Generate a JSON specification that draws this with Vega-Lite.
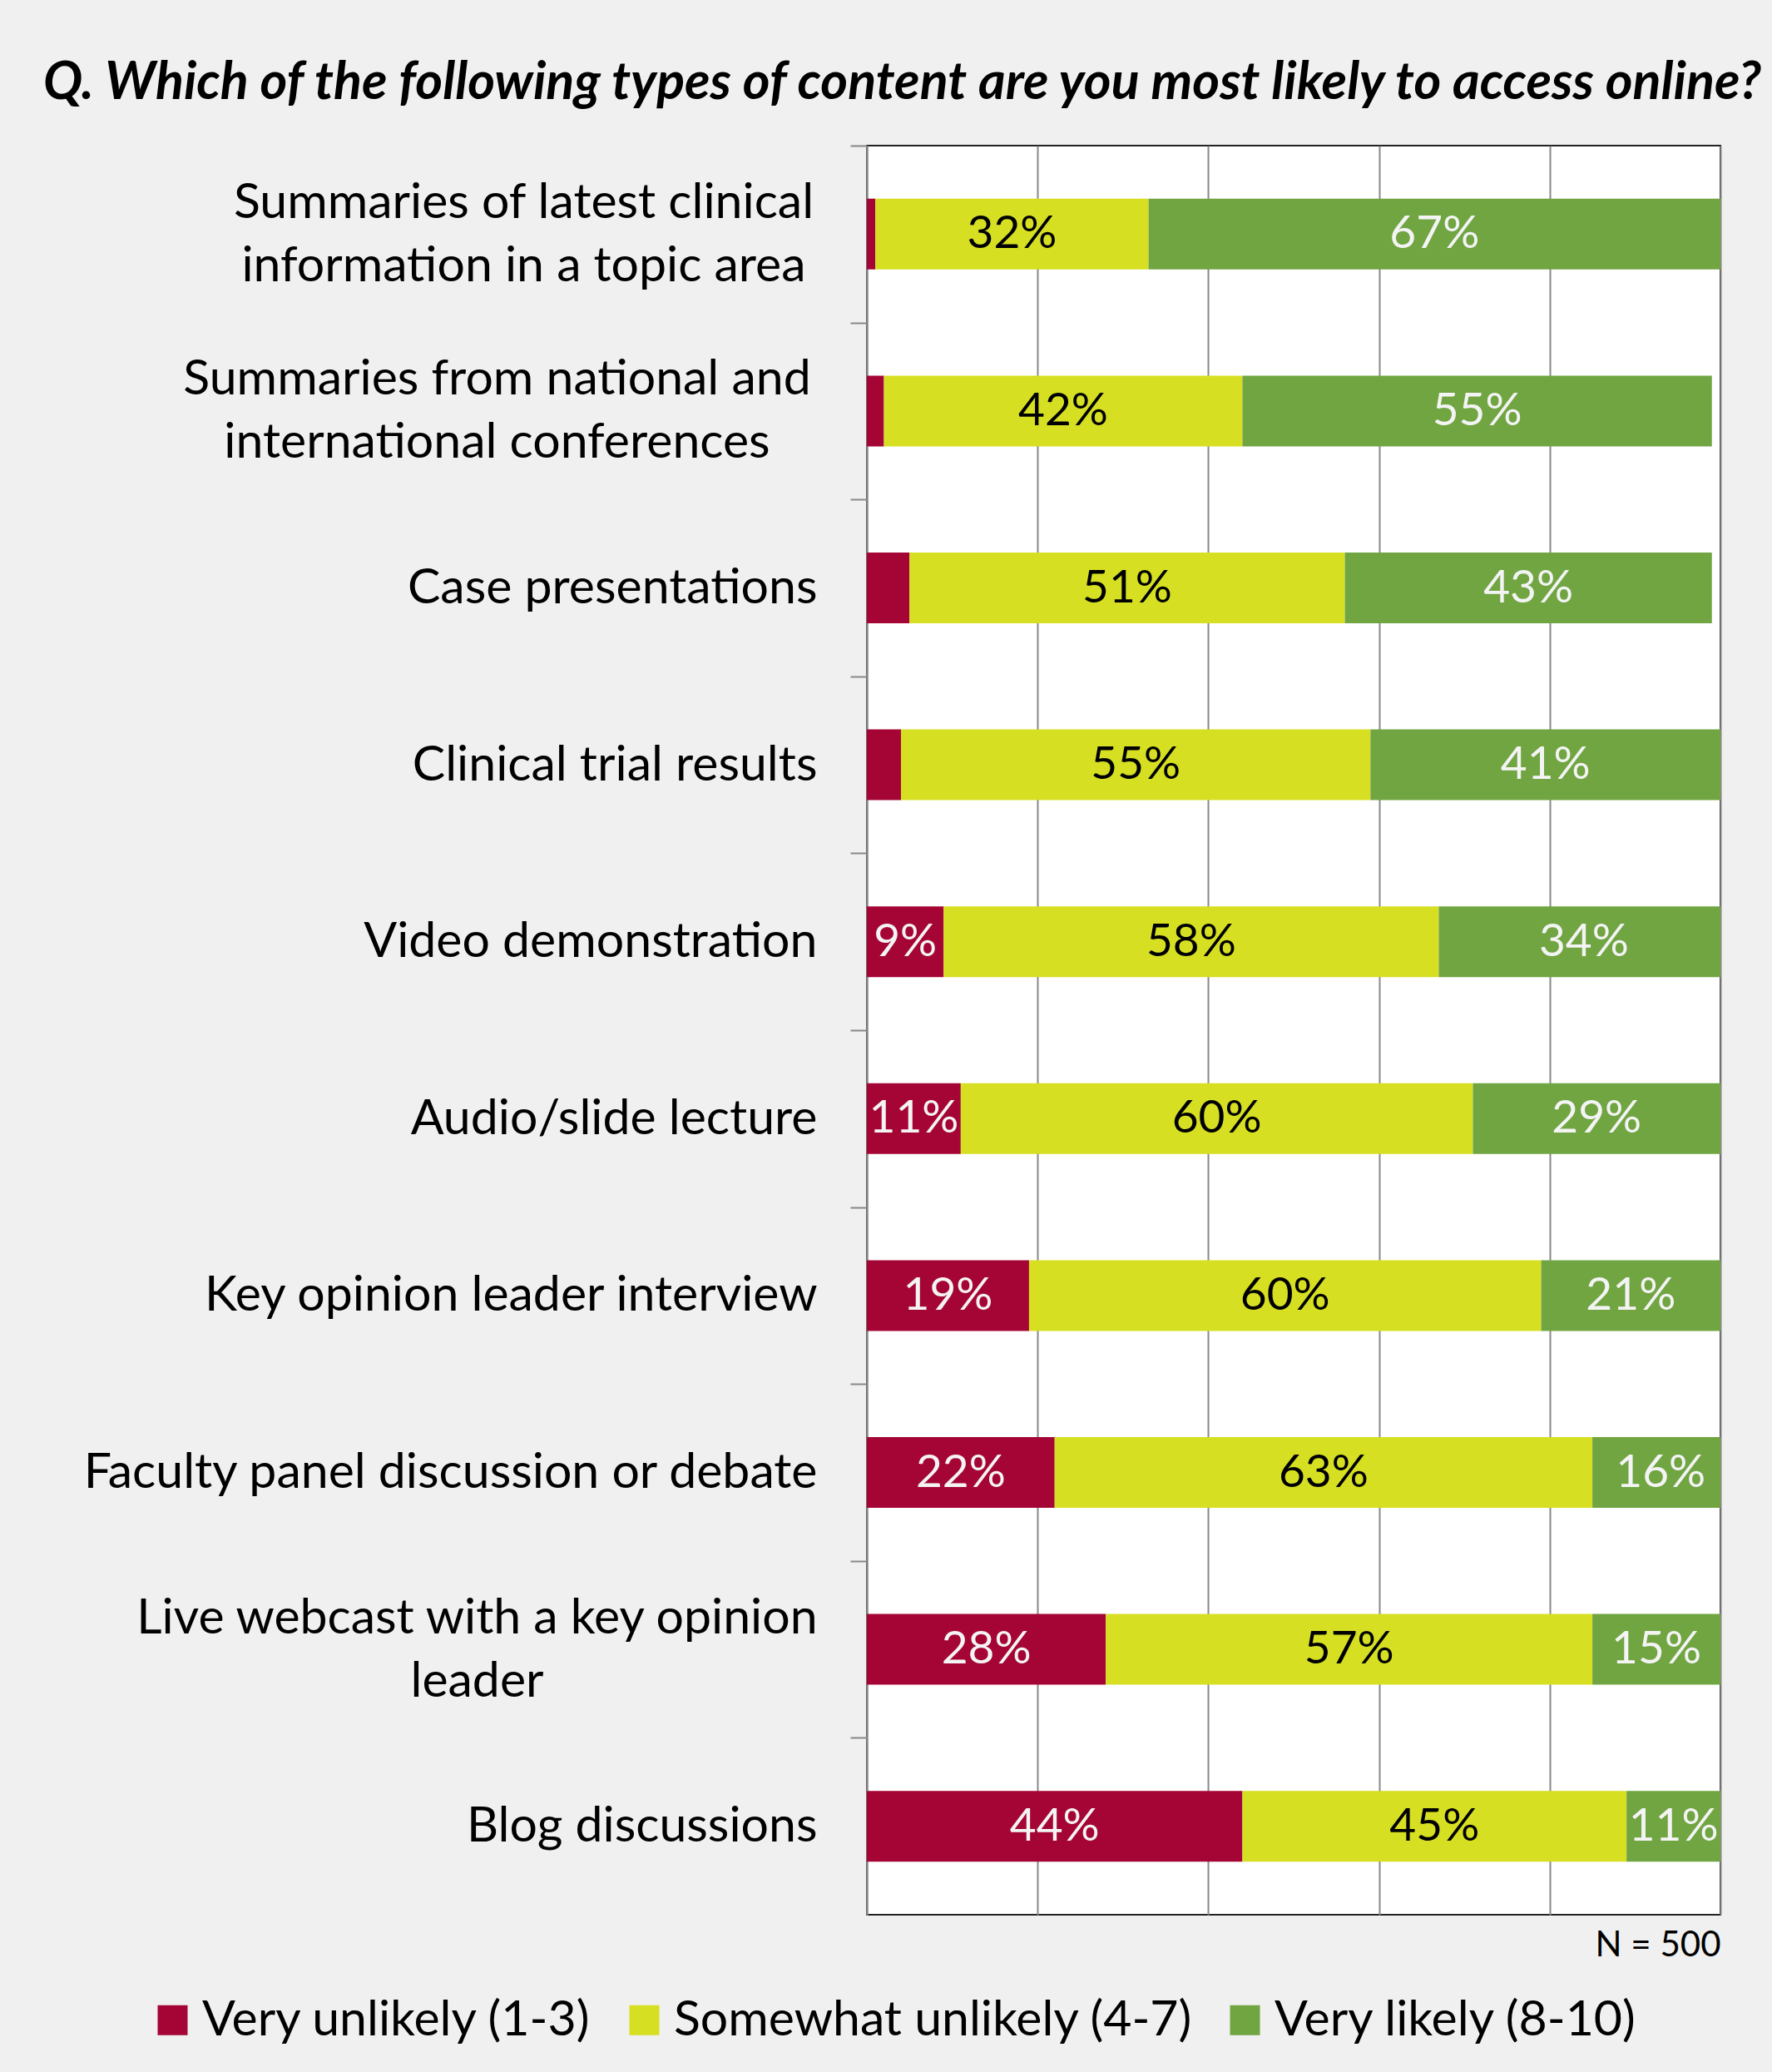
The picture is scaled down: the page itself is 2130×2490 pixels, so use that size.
{
  "$schema": "https://vega.github.io/schema/vega-lite/v6.json",
  "width": 1026,
  "height": 2126,
  "autosize": {"type": "none"},
  "padding": {"left": 1042, "top": 175, "right": 62, "bottom": 189},
  "background": "#f0f0f0",
  "title": {
    "text": "Q. Which of the following types of content are you most likely to access online?",
    "anchor": "start",
    "frame": "group",
    "dx": -990,
    "offset": 42,
    "font": "Lato",
    "fontSize": 62.8,
    "fontWeight": "bold",
    "fontStyle": "italic",
    "color": "#000000"
  },
  "config": {
    "font": "Lato",
    "view": {"fill": "#ffffff", "stroke": "#222222", "strokeWidth": 2}
  },
  "data": {
    "values": [
      {"item": "Summaries of latest clinical|information in a topic area", "rating": "Very unlikely (1-3)", "code": 1, "value": 0.01},
      {"item": "Summaries of latest clinical|information in a topic area", "rating": "Somewhat unlikely (4-7)", "code": 2, "value": 0.32},
      {"item": "Summaries of latest clinical|information in a topic area", "rating": "Very likely (8-10)", "code": 3, "value": 0.67},
      {"item": "Summaries from national and|international conferences", "rating": "Very unlikely (1-3)", "code": 1, "value": 0.02},
      {"item": "Summaries from national and|international conferences", "rating": "Somewhat unlikely (4-7)", "code": 2, "value": 0.42},
      {"item": "Summaries from national and|international conferences", "rating": "Very likely (8-10)", "code": 3, "value": 0.55},
      {"item": "Case presentations", "rating": "Very unlikely (1-3)", "code": 1, "value": 0.05},
      {"item": "Case presentations", "rating": "Somewhat unlikely (4-7)", "code": 2, "value": 0.51},
      {"item": "Case presentations", "rating": "Very likely (8-10)", "code": 3, "value": 0.43},
      {"item": "Clinical trial results", "rating": "Very unlikely (1-3)", "code": 1, "value": 0.04},
      {"item": "Clinical trial results", "rating": "Somewhat unlikely (4-7)", "code": 2, "value": 0.55},
      {"item": "Clinical trial results", "rating": "Very likely (8-10)", "code": 3, "value": 0.41},
      {"item": "Video demonstration", "rating": "Very unlikely (1-3)", "code": 1, "value": 0.09},
      {"item": "Video demonstration", "rating": "Somewhat unlikely (4-7)", "code": 2, "value": 0.58},
      {"item": "Video demonstration", "rating": "Very likely (8-10)", "code": 3, "value": 0.34},
      {"item": "Audio/slide lecture", "rating": "Very unlikely (1-3)", "code": 1, "value": 0.11},
      {"item": "Audio/slide lecture", "rating": "Somewhat unlikely (4-7)", "code": 2, "value": 0.60},
      {"item": "Audio/slide lecture", "rating": "Very likely (8-10)", "code": 3, "value": 0.29},
      {"item": "Key opinion leader interview", "rating": "Very unlikely (1-3)", "code": 1, "value": 0.19},
      {"item": "Key opinion leader interview", "rating": "Somewhat unlikely (4-7)", "code": 2, "value": 0.60},
      {"item": "Key opinion leader interview", "rating": "Very likely (8-10)", "code": 3, "value": 0.21},
      {"item": "Faculty panel discussion or debate", "rating": "Very unlikely (1-3)", "code": 1, "value": 0.22},
      {"item": "Faculty panel discussion or debate", "rating": "Somewhat unlikely (4-7)", "code": 2, "value": 0.63},
      {"item": "Faculty panel discussion or debate", "rating": "Very likely (8-10)", "code": 3, "value": 0.16},
      {"item": "Live webcast with a key opinion|leader", "rating": "Very unlikely (1-3)", "code": 1, "value": 0.28},
      {"item": "Live webcast with a key opinion|leader", "rating": "Somewhat unlikely (4-7)", "code": 2, "value": 0.57},
      {"item": "Live webcast with a key opinion|leader", "rating": "Very likely (8-10)", "code": 3, "value": 0.15},
      {"item": "Blog discussions", "rating": "Very unlikely (1-3)", "code": 1, "value": 0.44},
      {"item": "Blog discussions", "rating": "Somewhat unlikely (4-7)", "code": 2, "value": 0.45},
      {"item": "Blog discussions", "rating": "Very likely (8-10)", "code": 3, "value": 0.11}
    ]
  },
  "transform": [
    {"stack": "value", "groupby": ["item"], "sort": [{"field": "code", "order": "ascending"}], "as": ["v0", "v1"]}
  ],
  "encoding": {
    "y": {
      "field": "item",
      "type": "nominal",
      "sort": null,
      "scale": {"paddingInner": 0.6, "paddingOuter": 0.3},
      "axis": {
        "title": null,
        "labelExpr": "datum.value == null ? '' : split(datum.value, '|')",
        "labelFont": "Lato",
        "labelFontSize": 59,
        "labelColor": "#000000",
        "labelLineHeight": 76,
        "labelAlign": {
          "condition": {"test": "datum.value != null && indexof(datum.value, '|') >= 0", "value": "center"},
          "value": "right"
        },
        "tickOffset": -106.3,
        "labelOffset": {
          "condition": {"test": "datum.value != null && indexof(datum.value, '|') >= 0", "value": 68.3},
          "value": 106.3
        },
        "labelPadding": {
          "condition": [
            {"test": "datum.value == 'Summaries of latest clinical|information in a topic area'", "value": 393},
            {"test": "datum.value == 'Summaries from national and|international conferences'", "value": 425},
            {"test": "datum.value == 'Live webcast with a key opinion|leader'", "value": 449}
          ],
          "value": 40
        },
        "labelLimit": 1000,
        "tickSize": 20,
        "tickColor": "#888888",
        "tickWidth": 2,
        "domainColor": "#888888",
        "domainWidth": 2,
        "grid": false
      }
    }
  },
  "layer": [
    {
      "mark": {"type": "bar", "clip": true},
      "encoding": {
        "x": {
          "field": "v0",
          "type": "quantitative",
          "scale": {"domain": [0, 1], "nice": false},
          "axis": {
            "title": "N = 500",
            "titleAnchor": "end",
            "titleFont": "Lato",
            "titleFontSize": 42,
            "titleFontWeight": "normal",
            "titleColor": "#000000",
            "titlePadding": 16,
            "labels": false,
            "ticks": false,
            "domain": false,
            "grid": true,
            "gridColor": "#888888",
            "gridWidth": 2,
            "values": [0, 0.2, 0.4, 0.6, 0.8, 1]
          }
        },
        "x2": {"field": "v1"},
        "color": {
          "field": "rating",
          "type": "nominal",
          "scale": {
            "domain": ["Very unlikely (1-3)", "Somewhat unlikely (4-7)", "Very likely (8-10)"],
            "range": ["#a50535", "#d6df21", "#70a542"]
          },
          "legend": {
            "title": null,
            "orient": "none",
            "legendX": -864,
            "legendY": 2223,
            "direction": "horizontal",
            "symbolType": "square",
            "symbolSize": 1296,
            "symbolStrokeWidth": 0,
            "labelFont": "Lato",
            "labelFontSize": 59,
            "labelColor": "#000000",
            "labelLimit": 1000,
            "columnPadding": 33,
            "labelOffset": 6
          }
        }
      }
    },
    {
      "transform": [
        {"filter": "datum.value >= 0.09"},
        {"fold": ["v0", "v1"], "as": ["edge", "pos"]},
        {"aggregate": [{"op": "mean", "field": "pos", "as": "mid"}], "groupby": ["item", "rating", "value"]}
      ],
      "mark": {"type": "text", "font": "Lato", "fontSize": 55, "baseline": "middle", "align": "center"},
      "encoding": {
        "x": {"field": "mid", "type": "quantitative"},
        "text": {"field": "value", "type": "quantitative", "format": ".0%"},
        "color": {
          "condition": {"test": "datum.rating === 'Somewhat unlikely (4-7)'", "value": "#000000"},
          "value": "#f4f4f4"
        }
      }
    }
  ]
}
